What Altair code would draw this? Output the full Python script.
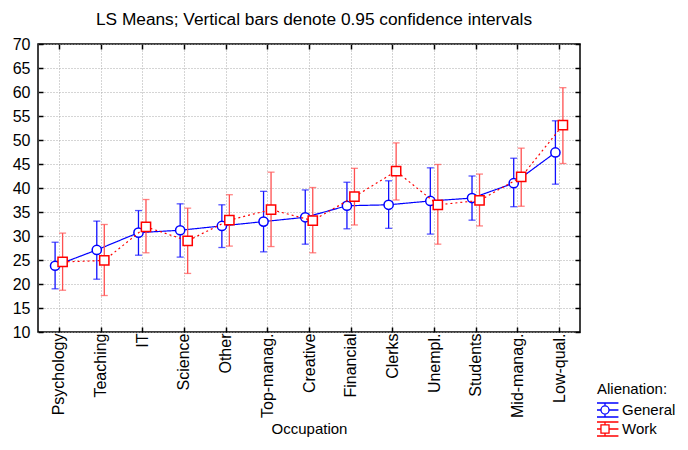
import altair as alt
import pandas as pd

categories = ["Psychology", "Teaching", "IT", "Science", "Other", "Top-manag.", "Creative",
              "Financial", "Clerks", "Unempl.", "Students", "Mid-manag.", "Low-qual."]
series = ["General", "Work"]

general_mean = [23.8, 27.1, 30.7, 31.2, 32.1, 33.0, 33.9, 36.3, 36.5, 37.3, 37.9, 41.0, 47.4]
general_low = [19.0, 21.0, 26.0, 25.6, 27.6, 26.7, 28.3, 31.5, 31.6, 30.4, 33.3, 36.1, 40.8]
general_high = [28.7, 33.1, 35.3, 36.7, 36.5, 39.3, 39.6, 41.2, 41.5, 44.2, 42.5, 46.2, 54.0]

work_mean = [24.6, 24.9, 31.9, 29.0, 33.3, 35.5, 33.2, 38.2, 43.5, 36.5, 37.4, 42.3, 53.1]
work_low = [18.7, 17.6, 26.5, 22.2, 27.9, 27.8, 26.5, 32.3, 37.5, 28.3, 32.1, 36.2, 45.1]
work_high = [30.6, 32.4, 37.6, 35.8, 38.6, 43.3, 40.1, 44.1, 49.4, 44.9, 42.9, 48.3, 60.9]

y_ticks = [10, 15, 20, 25, 30, 35, 40, 45, 50, 55, 60, 65, 70]

rows = []
for i, c in enumerate(categories):
    rows.append(dict(idx=i, occ=c, series="General", mean=general_mean[i], lo=general_low[i], hi=general_high[i]))
    rows.append(dict(idx=i, occ=c, series="Work", mean=work_mean[i], lo=work_low[i], hi=work_high[i]))
df = pd.DataFrame(rows)

FONT = "Liberation Sans"
FS = 16
label_js = "[" + ",".join("'" + c + "'" for c in categories) + "]"
INWARD = alt.ExprRef(expr="-5")

base = alt.Chart(df).transform_calculate(
    xpos="datum.idx + (datum.series == 'General' ? -0.09 : 0.09)"
)

x_scale = alt.Scale(domain=[-0.5, len(categories) - 0.5], nice=False, zero=False)
y_scale = alt.Scale(domain=[10, 70], nice=False, zero=False)

x_axis = alt.Axis(
    values=list(range(len(categories))),
    labelExpr=label_js + "[datum.value]",
    labelAngle=-90, labelAlign="right", labelBaseline="middle",
    labelPadding=6, ticks=True, tickSize=INWARD, tickColor="black", tickWidth=1.5,
    title="Occupation", titlePadding=4,
    grid=True, gridColor="#aaaaaa", gridDash=[1, 2], domain=False,
    labelFont=FONT, labelFontSize=FS, titleFont=FONT, titleFontSize=15,
    titleFontWeight="normal", labelColor="black", titleColor="black",
    labelOverlap=False,
)
y_axis = alt.Axis(
    values=y_ticks, ticks=True, tickSize=INWARD, tickColor="black", tickWidth=1.5,
    labelPadding=13, title=None,
    grid=True, gridColor="#aaaaaa", gridDash=[1, 2], domain=False,
    labelFont=FONT, labelFontSize=FS, labelColor="black", labelOverlap=False,
)
x_main = alt.X("xpos:Q", scale=x_scale, axis=x_axis)


def y_main(field):
    return alt.Y(field, scale=y_scale, axis=y_axis)


def series_layers(name, col, err_col, shape, dash):
    b = base.transform_filter(alt.datum.series == name)
    rule = b.mark_rule(strokeWidth=1.3, color=err_col).encode(
        x=x_main, y=y_main("lo:Q"), y2="hi:Q")
    lo = b.mark_tick(orient="horizontal", size=7, thickness=1.3, color=err_col).encode(
        x=x_main, y=y_main("lo:Q"))
    hi = b.mark_tick(orient="horizontal", size=7, thickness=1.3, color=err_col).encode(
        x=x_main, y=y_main("hi:Q"))
    line = b.mark_line(strokeWidth=1.2, color=col, strokeDash=dash).encode(
        x=x_main, y=y_main("mean:Q"), order="idx:Q")
    pts = b.mark_point(shape=shape, filled=False, fill="white", fillOpacity=1, stroke=col,
                       strokeWidth=1.5, size=85, opacity=1).encode(
        x=x_main, y=y_main("mean:Q"))
    return [rule, lo, hi, line, pts]


inner = alt.layer(
    *series_layers("General", "#0000ff", "#1010ff", "circle", [1, 0]),
    *series_layers("Work", "#ff0000", "#ff5050", "square", [2, 3]),
)

# legend symbols: line + error bar + marker (wider than the unit box on purpose)
sym_general = ("M-1.9,-0.99L1.9,-0.99M-1.9,0.99L1.9,0.99M0,-0.99L0,-0.57M0,0.57L0,0.99"
               "M-1.9,0L-0.57,0M0.57,0L1.9,0M-0.57,0A0.57,0.57,0,1,1,0.57,0A0.57,0.57,0,1,1,-0.57,0Z")
sym_work = ("M-1.9,-0.99L1.9,-0.99M-1.9,0.99L1.9,0.99M0,-0.99L0,-0.57M0,0.57L0,0.99"
            "M-1.9,0L-0.57,0M0.57,0L1.9,0M-0.57,-0.57L0.57,-0.57L0.57,0.57L-0.57,0.57Z")

legend = alt.Legend(
    title="Alienation:", orient="none", legendX=559, legendY=338,
    titleFont=FONT, titleFontSize=15, titleFontWeight="normal", titleColor="black",
    labelFont=FONT, labelFontSize=15, labelColor="black",
    symbolFillColor="white", symbolStrokeWidth=1.3, symbolSize=200, symbolOpacity=1,
    rowPadding=1, titlePadding=4, labelOffset=9, clipHeight=18,
)

ghost = base.mark_point(opacity=0, filled=False).encode(
    x=alt.X("xpos:Q", scale=x_scale, axis=alt.Axis(
        orient="top", values=list(range(len(categories))), labels=False, title=None,
        ticks=True, tickSize=INWARD, tickColor="black", tickWidth=1.5, grid=False, domain=False)),
    y=alt.Y("mean:Q", scale=y_scale, axis=alt.Axis(
        orient="right", values=y_ticks, labels=False, title=None,
        ticks=True, tickSize=INWARD, tickColor="black", tickWidth=1.5, grid=False, domain=False)),
    color=alt.Color("series:N", scale=alt.Scale(domain=series, range=["#0000ff", "#ff0000"]), legend=legend),
    shape=alt.Shape("series:N", scale=alt.Scale(domain=series, range=[sym_general, sym_work]), legend=legend),
)

chart = alt.layer(inner, ghost).resolve_scale(x="independent", y="independent").properties(
    width=542, height=288,
    title=alt.TitleParams(
        "LS Means; Vertical bars denote 0.95 confidence intervals",
        font=FONT, fontSize=17.3, fontWeight="normal", color="black", offset=8, dx=5,
    ),
    autosize=alt.AutoSizeParams(type="none"),
    padding={"left": 30, "top": 36, "right": 100, "bottom": 110},
).configure_view(stroke="black", strokeWidth=1.5).configure_axis(labelOverlap=False)

chart.save("out.html", embed_options={"renderer": "svg", "actions": False})
